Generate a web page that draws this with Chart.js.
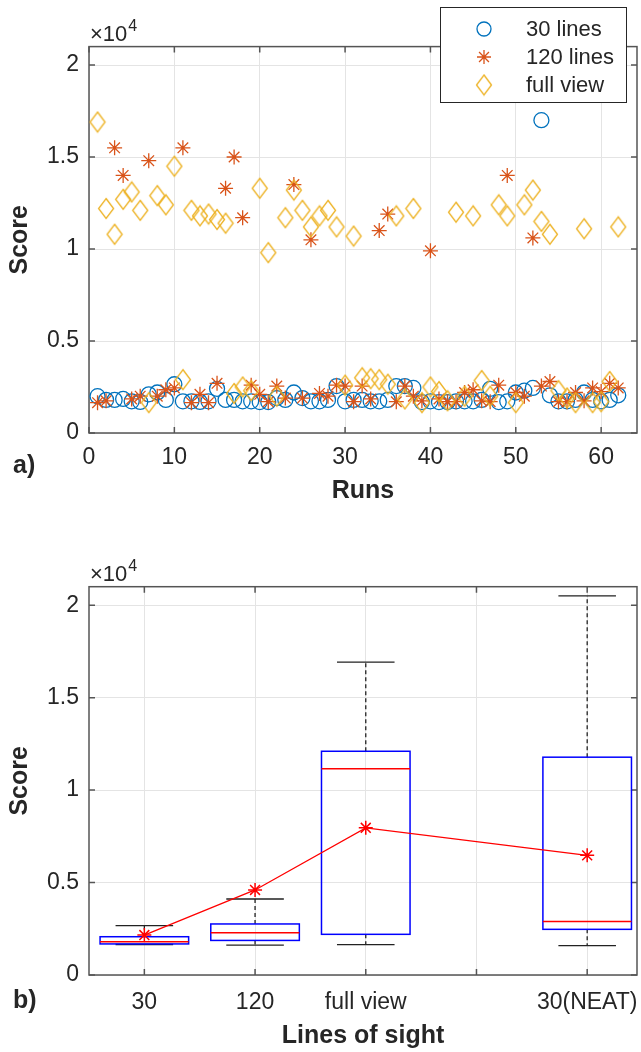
<!DOCTYPE HTML>
<html lang="en-US">

<head>
    <title>Score per run and lines of sight</title>
    <meta charset="utf-8" />
    <script src="https://cdn.jsdelivr.net/npm/chart.js@4"></script>
    <style>
        body { margin: 0; background: #fff; }
        .panel { position: absolute; left: 0; width: 641px; }
    </style>
</head>

<body>
    <div class="panel" style="top: 0;"><canvas id="runs" width="641" height="520"></canvas></div>
    <div class="panel" style="top: 520px;"><canvas id="sight" width="641" height="532"></canvas></div>
    <script>
        // a) score of every run
        const runs = Array.from({ length: 62 }, (_, i) => i + 1);
        const lines30 = [2000, 1800, 1800, 1850, 1720, 1690, 2100, 2200, 1800, 2650,
            1720, 1720, 1690, 1720, 2400, 1800, 1800, 1720, 1720, 1680,
            1680, 1900, 1800, 2200, 1900, 1720, 1720, 1800, 2550, 1720,
            1800, 1800, 1720, 1720, 1800, 2550, 2550, 2450, 1680, 1720,
            1680, 1680, 1720, 1720, 1720, 1800, 2400, 1680, 1720, 2200,
            2300, 2450, 17000, 2050, 1720, 1720, 1800, 2200, 1800, 1720,
            1800, 2050];
        const lines120 = [1650, 1750, 15500, 14000, 1850, 2000, 14800, 2000, 2350, 2450,
            15500, 1650, 2100, 1650, 2700, 13300, 15000, 11700, 2600, 2100,
            1700, 2550, 1900, 13500, 1900, 10500, 2150, 2000, 2600, 2550,
            1700, 2550, 1850, 11000, 11900, 1700, 2550, 2000, 1750, 9900,
            1850, 1700, 1700, 2200, 2350, 1750, 1700, 2600, 14000, 2200,
            2000, 10600, 2550, 2800, 1700, 1700, 2200, 1750, 2450, 2250,
            2700, 2450];
        const fullView = [16900, 12200, 10800, 12700, 13100, 12100, 1650, 12900, 12400, 14500,
            2900, 12100, 11800, 11900, 11600, 11400, 2150, 2500, 2300, 13300,
            9800, 2000, 11700, 13200, 12100, 11200, 11800, 12100, 11200, 2600,
            10700, 3000, 2950, 2900, 2650, 11800, 1850, 12200, 1650, 2500,
            2250, 1750, 12000, 2000, 11800, 2850, 2000, 12400, 11800, 1650,
            12400, 13200, 11500, 10800, 2300, 1900, 1650, 11100, 1650, 1700,
            2800, 11200];
        const runTicks = [0, 10, 20, 30, 40, 50, 60];
        const scoreTicks = [0, 5000, 10000, 15000, 20000];

        // b) box statistics per lines of sight
        const groupLabels = ['30', '120', 'full view', '30(NEAT)'];
        const groupPos = [1, 2, 3, 5];
        const groupTicks = [1, 2, 3, 4, 5];
        const q1 = [1680, 1870, 2200, 2470];
        const median = [1800, 2290, 11150, 2900];
        const q3 = [2070, 2760, 12100, 11780];
        const whiskerLow = [1650, 1620, 1640, 1590];
        const whiskerHigh = [2670, 4110, 16920, 20500];
        const means = [2160, 4600, 7960, 6470];

        const FONT = "'Liberation Sans', Arial, sans-serif";
        const TEXT = '#262626';
        Chart.defaults.font.family = FONT;
        Chart.defaults.animation = false;

        function diamond(w, h, color) {
            const c = document.createElement('canvas');
            c.width = w + 3;
            c.height = h + 3;
            const g = c.getContext('2d');
            g.strokeStyle = color;
            g.lineWidth = 1.3;
            g.beginPath();
            g.moveTo(c.width / 2, 1.5);
            g.lineTo(c.width - 1.5, c.height / 2);
            g.lineTo(c.width / 2, c.height - 1.5);
            g.lineTo(1.5, c.height / 2);
            g.closePath();
            g.stroke();
            return c;
        }
        const diamondImg = diamond(15, 20, '#EDB120');

        function yAxis() {
            return {
                min: 0, max: 21000,
                afterBuildTicks: s => { s.ticks = scoreTicks.map(v => ({ value: v })); },
                afterFit: s => { s.width = 89; s.paddingTop = 0; s.paddingBottom = 0; },
                grid: { color: '#e4e4e4', drawTicks: false },
                border: { display: false },
                ticks: { padding: 10, color: TEXT, font: { size: 23 }, callback: v => String(v / 10000) },
                title: { display: true, text: 'Score', color: TEXT, font: { size: 25, weight: 'bold' }, padding: 5 }
            };
        }

        // axes box with inward ticks on all four sides
        const frame = {
            id: 'frame',
            beforeDatasetsDraw(chart) {
                const { ctx, chartArea: a, scales: { x, y } } = chart;
                ctx.save();
                ctx.strokeStyle = '#555';
                ctx.lineWidth = 1.5;
                ctx.beginPath();
                x.ticks.forEach(t => {
                    const p = x.getPixelForValue(t.value);
                    ctx.moveTo(p, a.bottom); ctx.lineTo(p, a.bottom - 6);
                    ctx.moveTo(p, a.top); ctx.lineTo(p, a.top + 6);
                });
                y.ticks.forEach(t => {
                    const p = y.getPixelForValue(t.value);
                    ctx.moveTo(a.left, p); ctx.lineTo(a.left + 6, p);
                    ctx.moveTo(a.right, p); ctx.lineTo(a.right - 6, p);
                });
                ctx.stroke();
                ctx.strokeRect(a.left, a.top, a.right - a.left, a.bottom - a.top);
                ctx.restore();
            }
        };

        // x10^4 multiplier and panel letter
        const notes = {
            id: 'notes',
            afterDraw(chart, args, opts) {
                const { ctx, chartArea: a } = chart;
                ctx.save();
                ctx.fillStyle = TEXT;
                ctx.textBaseline = 'middle';
                ctx.textAlign = 'left';
                ctx.font = '22px ' + FONT;
                ctx.fillText('\u00d710', a.left + 1, a.top - 12);
                const w = ctx.measureText('\u00d710').width;
                ctx.font = '16px ' + FONT;
                ctx.fillText('4', a.left + 2 + w, a.top - 20);
                ctx.font = 'bold 25px ' + FONT;
                ctx.fillText(opts.letter, 13, opts.letterY);
                ctx.restore();
            }
        };

        const markerLegend = {
            id: 'markerLegend',
            afterDatasetsDraw(chart) {
                const { ctx } = chart;
                ctx.save();
                ctx.fillStyle = '#fff';
                ctx.strokeStyle = '#262626';
                ctx.lineWidth = 1;
                ctx.fillRect(440.5, 7.5, 186, 95);
                ctx.strokeRect(440.5, 7.5, 186, 95);
                const rows = [29, 57, 85];
                chart.data.datasets.forEach((ds, i) => {
                    const y = rows[i], x = 484;
                    ctx.strokeStyle = ds.borderColor;
                    ctx.lineWidth = 1.3;
                    ctx.beginPath();
                    if (ds.pointStyle === 'circle') {
                        ctx.arc(x, y, 7, 0, Math.PI * 2);
                    } else if (ds.pointStyle === 'star') {
                        for (let k = 0; k < 4; k++) {
                            const ang = k * Math.PI / 4;
                            ctx.moveTo(x - 7 * Math.cos(ang), y - 7 * Math.sin(ang));
                            ctx.lineTo(x + 7 * Math.cos(ang), y + 7 * Math.sin(ang));
                        }
                    } else {
                        ctx.drawImage(ds.pointStyle, x - ds.pointStyle.width / 2, y - ds.pointStyle.height / 2);
                    }
                    ctx.stroke();
                    ctx.fillStyle = TEXT;
                    ctx.font = '22px ' + FONT;
                    ctx.textBaseline = 'middle';
                    ctx.fillText(ds.label, 526, y + 1);
                });
                ctx.restore();
            }
        };

        new Chart(document.getElementById('runs'), {
            type: 'scatter',
            data: {
                datasets: [{
                    label: '30 lines',
                    data: runs.map((r, i) => ({ x: r, y: lines30[i] })),
                    pointStyle: 'circle', pointRadius: 7.5, borderWidth: 1.3,
                    borderColor: '#0072BD', backgroundColor: 'rgba(0,0,0,0)', order: 2
                }, {
                    label: '120 lines',
                    data: runs.map((r, i) => ({ x: r, y: lines120[i] })),
                    pointStyle: 'star', pointRadius: 7.5, borderWidth: 1.3,
                    borderColor: '#D95319', backgroundColor: '#D95319', order: 1
                }, {
                    label: 'full view',
                    data: runs.map((r, i) => ({ x: r, y: fullView[i] })),
                    pointStyle: diamondImg, borderColor: '#EDB120', order: 0
                }]
            },
            options: {
                responsive: false,
                events: [],
                layout: { autoPadding: false, padding: { top: 46.6, right: 4, left: 0, bottom: 0 } },
                plugins: {
                    legend: { display: false },
                    tooltip: { enabled: false },
                    notes: { letter: 'a)', letterY: 466 }
                },
                scales: {
                    x: {
                        type: 'linear', min: 0, max: 64.2,
                        afterBuildTicks: s => { s.ticks = runTicks.map(v => ({ value: v })); },
                        afterFit: s => { s.height = 87; s.paddingLeft = 0; s.paddingRight = 0; },
                        grid: { color: '#e4e4e4', drawTicks: false },
                        border: { display: false },
                        ticks: { padding: 11, color: TEXT, font: { size: 23 }, maxRotation: 0, autoSkip: false },
                        title: { display: true, text: 'Runs', color: TEXT, font: { size: 25, weight: 'bold' }, padding: { top: 4, bottom: 14 } }
                    },
                    y: yAxis()
                }
            },
            plugins: [frame, notes, markerLegend]
        });

        // boxes, medians and whiskers drawn on the library scales
        const boxes = {
            id: 'boxes',
            beforeDatasetsDraw(chart) {
                const { ctx, scales: { x, y } } = chart;
                ctx.save();
                groupPos.forEach((g, i) => {
                    const xl = x.getPixelForValue(g - 0.4), xr = x.getPixelForValue(g + 0.4);
                    const cl = x.getPixelForValue(g - 0.26), cr = x.getPixelForValue(g + 0.26);
                    const xc = x.getPixelForValue(g);
                    // dashed whiskers
                    ctx.strokeStyle = '#222';
                    ctx.lineWidth = 1.3;
                    ctx.setLineDash([4, 3]);
                    ctx.beginPath();
                    ctx.moveTo(xc, y.getPixelForValue(q3[i])); ctx.lineTo(xc, y.getPixelForValue(whiskerHigh[i]));
                    ctx.moveTo(xc, y.getPixelForValue(q1[i])); ctx.lineTo(xc, y.getPixelForValue(whiskerLow[i]));
                    ctx.stroke();
                    ctx.setLineDash([]);
                    ctx.beginPath();
                    ctx.moveTo(cl, y.getPixelForValue(whiskerHigh[i])); ctx.lineTo(cr, y.getPixelForValue(whiskerHigh[i]));
                    ctx.moveTo(cl, y.getPixelForValue(whiskerLow[i])); ctx.lineTo(cr, y.getPixelForValue(whiskerLow[i]));
                    ctx.stroke();
                    // box
                    ctx.strokeStyle = '#0000FF';
                    ctx.lineWidth = 1.5;
                    const yt = y.getPixelForValue(q3[i]), yb = y.getPixelForValue(q1[i]);
                    ctx.strokeRect(xl, yt, xr - xl, yb - yt);
                    // median
                    ctx.strokeStyle = '#FF0000';
                    ctx.beginPath();
                    ctx.moveTo(xl, y.getPixelForValue(median[i])); ctx.lineTo(xr, y.getPixelForValue(median[i]));
                    ctx.stroke();
                });
                ctx.restore();
            }
        };

        new Chart(document.getElementById('sight'), {
            type: 'scatter',
            data: {
                datasets: [{
                    label: 'mean',
                    data: groupPos.map((g, i) => ({ x: g, y: means[i] })),
                    showLine: true,
                    borderColor: '#FF0000', backgroundColor: '#FF0000', borderWidth: 1.3,
                    pointStyle: 'star', pointRadius: 7, pointBorderWidth: 1.5
                }]
            },
            options: {
                responsive: false,
                events: [],
                layout: { autoPadding: false, padding: { top: 66.7, right: 4, left: 0, bottom: 0 } },
                plugins: {
                    legend: { display: false },
                    tooltip: { enabled: false },
                    notes: { letter: 'b)', letterY: 481 }
                },
                scales: {
                    x: {
                        type: 'linear', min: 0.5, max: 5.45,
                        afterBuildTicks: s => { s.ticks = groupTicks.map(v => ({ value: v })); },
                        afterFit: s => { s.height = 77; s.paddingLeft = 0; s.paddingRight = 0; },
                        grid: { color: '#e4e4e4', drawTicks: false },
                        border: { display: false },
                        ticks: {
                            padding: 14, color: TEXT, font: { size: 23 }, maxRotation: 0, autoSkip: false,
                            callback: v => { const k = groupPos.indexOf(v); return k < 0 ? '' : groupLabels[k]; }
                        },
                        title: { display: true, text: 'Lines of sight', color: TEXT, font: { size: 25, weight: 'bold' }, padding: { top: 0, bottom: 1 } }
                    },
                    y: yAxis()
                }
            },
            plugins: [frame, boxes, notes]
        });
    </script>
</body>

</html>
